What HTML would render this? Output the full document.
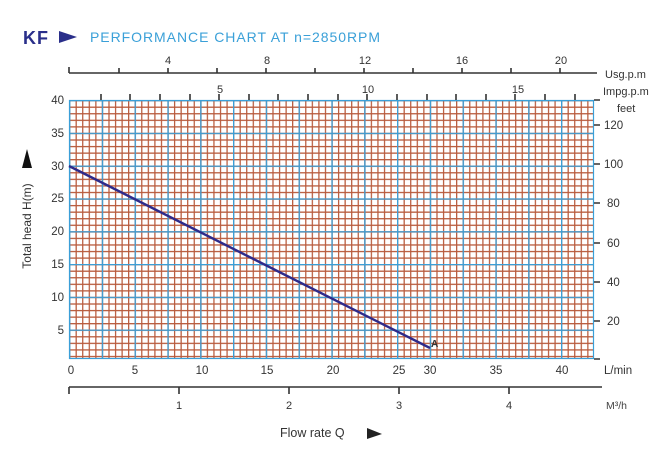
<!DOCTYPE html>
<html><head><meta charset="utf-8"><style>
html,body{margin:0;padding:0;background:#fff;}
svg{display:block;font-family:"Liberation Sans",Arial,sans-serif;}
</style></head><body>
<svg width="670" height="459" viewBox="0 0 670 459" xmlns="http://www.w3.org/2000/svg">
<defs>
<pattern id="og" x="69" y="100" width="6.56" height="6.56" patternUnits="userSpaceOnUse">
<path d="M0.6 0V6.56M0 0.6H6.56" stroke="#b85a3c" stroke-width="1.3" fill="none"/>
</pattern>
<pattern id="bg" x="69" y="100" width="32.8" height="32.8" patternUnits="userSpaceOnUse">
<path d="M0.6 0V32.8M0 0.6H32.8" stroke="#3a9fd8" stroke-width="1.4" fill="none"/>
</pattern>
</defs>
<text x="23" y="44" font-size="18" font-weight="bold" fill="#2a2f8a" letter-spacing="1">KF</text>
<polygon points="59,31 77,37 59,43" fill="#2a2f8a"/>
<text x="90" y="42" font-size="14" fill="#3aa0d8" textLength="290">PERFORMANCE CHART AT n=2850RPM</text>

<rect x="69" y="100" width="525" height="259" fill="#fff"/>
<rect x="69" y="100" width="525" height="259" fill="url(#og)"/>
<rect x="69" y="100" width="525" height="259" fill="url(#bg)"/>
<rect x="69.5" y="100.5" width="524" height="258" fill="none" stroke="#3a9fd8" stroke-width="1.2"/>

<g stroke="#333" stroke-width="1.6">
<line x1="69" y1="73" x2="597" y2="73"/>
<path d="M69 67V73M119 68V73M168 68V73M217 68V73M266 68V73M315 68V73M364 68V73M413 68V73M462 68V73M511 68V73M560 68V73"/>
<path d="M101 94V100M130 94V100M160 94V100M190 94V100M219 94V100M249 94V100M278 94V100M308 94V100M338 94V100M367 94V100M397 94V100M427 94V100M456 94V100M486 94V100M515 94V100M545 94V100M575 94V100"/>
</g>
<g font-size="11" fill="#333" text-anchor="middle">
<text x="168" y="64">4</text><text x="267" y="64">8</text><text x="365" y="64">12</text><text x="462" y="64">16</text><text x="561" y="64">20</text>
<text x="220" y="93">5</text><text x="368" y="93">10</text><text x="518" y="93">15</text>
</g>
<g font-size="11" fill="#333">
<text x="605" y="78">Usg.p.m</text>
<text x="603" y="95">Impg.p.m</text>
<text x="617" y="112">feet</text>
</g>

<g font-size="11.5" fill="#333" text-anchor="end">
<text x="64" y="104">40</text><text x="64" y="137">35</text><text x="64" y="170">30</text><text x="64" y="202">25</text>
<text x="64" y="235">20</text><text x="64" y="268">15</text><text x="64" y="301">10</text><text x="64" y="334">5</text>
</g>
<polygon points="27,149 22,168 32,168" fill="#111"/>
<text transform="translate(31,226) rotate(-90)" font-size="12" fill="#333" text-anchor="middle">Total head H(m)</text>

<g stroke="#333" stroke-width="1.6">
<path d="M594 100H600M594 125H600M594 164H600M594 203H600M594 243H600M594 282H600M594 321H600M594 359H600"/>
</g>
<g font-size="11.5" fill="#333">
<text x="604" y="129">120</text><text x="604" y="168">100</text><text x="607" y="207">80</text><text x="607" y="247">60</text>
<text x="607" y="286">40</text><text x="607" y="325">20</text>
</g>

<line x1="69" y1="166" x2="430" y2="348" stroke="#2e2a8a" stroke-width="2.4"/>
<text x="431" y="347" font-size="10" font-weight="bold" fill="#333">A</text>

<g font-size="11.5" fill="#333" text-anchor="middle">
<text x="71" y="374">0</text><text x="135" y="374">5</text><text x="202" y="374">10</text><text x="267" y="374">15</text>
<text x="333" y="374">20</text><text x="399" y="374">25</text><text x="430" y="374">30</text><text x="496" y="374">35</text><text x="562" y="374">40</text>
</g>
<text x="604" y="374" font-size="11.5" fill="#333">L/min</text>

<g stroke="#333" stroke-width="1.6">
<line x1="69" y1="387" x2="602" y2="387"/>
<path d="M69 387V394M179 387V394M289 387V394M399 387V394M509 387V394"/>
</g>
<g font-size="11" fill="#333" text-anchor="middle">
<text x="179" y="409">1</text><text x="289" y="409">2</text><text x="399" y="409">3</text><text x="509" y="409">4</text>
</g>
<text x="606" y="409" font-size="10.5" fill="#444">M³/h</text>

<text x="280" y="437" font-size="12.5" fill="#333">Flow rate Q</text>
<polygon points="367,428 382,434 367,439" fill="#222"/>
</svg>
</body></html>
